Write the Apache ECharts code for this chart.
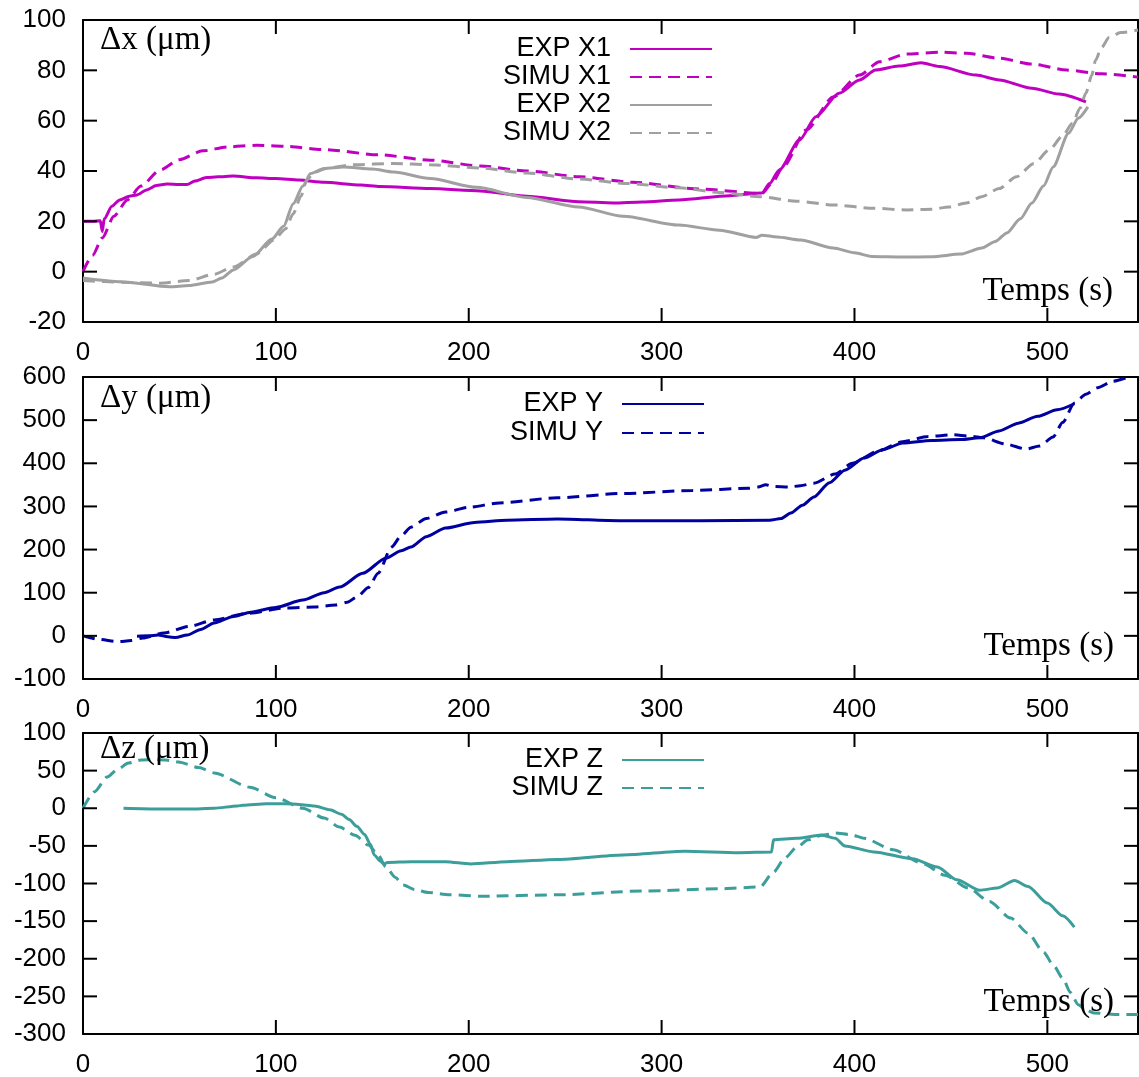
<!DOCTYPE html>
<html><head><meta charset="utf-8">
<script src="https://cdn.jsdelivr.net/npm/echarts@6/dist/echarts.min.js"></script>
<style>html,body{margin:0;padding:0;background:#fff}#c{width:1139px;height:1077px}</style>
</head><body><div id="c"></div><script>
// ---- data (t in s, value in µm) ----
const X_MAX = 547;
const X_TICKS = [0,100,200,300,400,500];
const Y_TICKS = [[-20,0,20,40,60,80,100],[-100,0,100,200,300,400,500,600],[-300,-250,-200,-150,-100,-50,0,50,100]];
const EXP_X1 = [[0,20],[5,20],[9,20.2],[10,16],[11,21],[15,26],[19,28.5],[24,30],[28,30.5],[33,32.5],[38,34.2],[43.5,34.8],[50,34.6],[54,34.6],[58,36],[64,37.4],[70,37.7],[78,38],[90,37.3],[100,37],[112,36.4],[125,35.5],[144,34.4],[154,33.8],[180,33],[206,32.1],[230,30],[257,27.8],[275,27.3],[290,27.7],[309,28.5],[335,30.2],[352,31.3],[356,35],[361,40.4],[371.5,52.3],[380,61.6],[392,70.9],[402.6,76.2],[411,80.1],[423,81.7],[434.5,83],[444,81.5],[463,78.1],[475,76.2],[492,72.9],[506,70.6],[520,67.5]];
const SIMU_X1 = [[0,0],[5,6.5],[10,13.4],[16,22],[23,28.5],[30,34],[40,40.4],[50,44.5],[62,48],[75,49.6],[90,50.2],[105,49.8],[125,48.5],[154,46.4],[180,44.3],[206,42],[230,40],[257.5,37.7],[285,35.5],[320,32.8],[352,31.1],[357,35],[363,41.6],[375,56.3],[389,69.4],[402.6,78.1],[413,83.4],[427,86.5],[444,87.2],[458,86.8],[475,84.8],[492,82.5],[510,80.1],[528,78.6],[547,77.3]];
const EXP_X2 = [[0,-2.5],[20,-4],[45,-6],[55,-5.5],[67,-4.1],[72,-2.5],[78,0.7],[88,6],[98,13],[104,18],[109,27],[114,34],[118,39],[125,41],[135,41.6],[150,40.8],[161,39.6],[180,37],[204,33.5],[230,29.5],[257,25.7],[280,22],[309,18.5],[330,16.5],[349,13.6],[352,14.5],[360,13.8],[372,12.6],[389,9.4],[400,7.5],[409,6],[425,5.8],[440,5.9],[455,7],[466,9.4],[473,12],[479,15.4],[486,21],[492,27.3],[498,34],[503,41.6],[511,55],[516,61],[521,65.5]];
const SIMU_X2 = [[0,-3.5],[20,-4.2],[40,-4.6],[55,-3.5],[68,-1],[78,1.9],[90,7],[99,12.6],[105,17],[109,23],[113,30],[116,36.4],[120,39.5],[126,41],[140,42.5],[161,43],[180,42.5],[206,41.2],[230,39.2],[257,36.8],[283,35],[309,33.3],[330,31.5],[351,29.8],[370,28],[389,26.5],[410,25.2],[427,24.5],[440,24.8],[449,25.7],[458,27.3],[466,29.8],[475,33],[484,37.7],[493,43],[501,48.4],[508,54],[513,59],[517,65],[520,71],[523,78],[525,84],[528,89],[532,93],[538,95],[547,96]];
const EXP_Y = [[28,-1],[34,0],[39,2],[44,-2],[48,-4],[54,2],[61,15],[68,30],[78,45],[87,55],[100,66],[114,83],[125,100],[133,113],[145,145],[157,180],[165,197],[170,206],[178,230],[188,250],[203,263],[220,268],[246,271],[278,267],[320,267],[356,268],[362,272],[367,285],[373,303],[379,322],[387,355],[395,384],[405,412],[415,432],[425,447],[440,453],[455,455],[465,459],[475,475],[485,493],[495,509],[505,524],[514,538]];
const SIMU_Y = [[0,0],[8,-8],[18,-13.5],[25,-11],[31,-5],[42,6.6],[55,22],[68,36.7],[85,52],[105,64.5],[120,67],[131,71.5],[137,78],[142,90],[148,112],[153,145],[160,206],[165,232],[170,252],[178,272],[188,287],[200,298],[216,308],[246,320],[280,330],[316,337],[345,342],[350,345],[354,350],[358,346],[366,345],[372,348],[379,354],[390,375],[399,400],[412,428],[425,450],[438,462],[451,466],[460,463],[467,459],[478,445],[489,433],[496,440],[503,461],[508,495],[514,540],[520,560],[526,575],[534,590],[542,600]];
const EXP_Z = [[21,0],[40,-1],[55,-1],[68,0],[80,3],[83,4],[95,6],[105,6],[112,5],[120,3],[128,-2],[134,-8],[138,-15],[142,-24],[146,-35],[149,-48],[151,-62],[154,-70],[156,-74],[158,-72],[170,-71],[188,-71],[201,-74],[220,-71],[246,-68],[280,-62],[312,-57],[340,-59],[357,-58],[358,-42],[370,-40],[383,-35.6],[390,-40],[395,-50],[410,-58],[430,-67],[443,-78],[453,-95],[465,-109],[474,-106],[483,-96],[490,-104],[500,-126],[508,-143],[514,-158]];
const SIMU_Z = [[0,0],[6,22],[12.5,41.5],[18,52],[23.6,60],[30,64],[36.5,65],[43,64],[49.5,61.5],[60,54],[68,47],[86.5,28],[100,14],[114,0],[125,-13],[133,-25],[141,-36],[148,-49],[153,-62],[157,-78],[162,-92],[166,-102],[172,-108],[179,-112],[190,-115],[207,-117],[246,-115],[290,-110],[330,-107],[351,-104.7],[358,-85],[364,-66],[370,-52],[376,-42],[383,-36],[390,-33],[398,-35],[405,-40],[420,-55],[435,-73],[447,-89],[459,-106],[470,-124],[481,-146],[490,-166],[498,-191],[503,-208],[508,-226],[512,-245],[516,-261],[520,-268],[524,-272],[535,-274],[547,-274]];
const Y_AXES = [{min:-20,max:100,interval:20},{min:-100,max:600,interval:100},{min:-300,max:100,interval:50}];

// ---- styles ----
const C_MAG='#c000c0', C_GRAY='#a0a0a0', C_BLUE='#0000a0', C_TEAL='#3c9e9a';
const SANS='Liberation Sans', SERIF='Liberation Serif';
const TICK_LEN=14;
const grids=[{left:83,right:1,top:20,height:302},{left:83,right:1,top:377,height:302},{left:83,right:1,top:733,height:301}]
  .map(g=>Object.assign(g,{containLabel:false,outerBoundsMode:'none'}));
const mkLine=()=>({show:true,onZero:false,lineStyle:{color:'#000',width:2}});
const xAxis=[], yAxis=[];
grids.forEach((g,i)=>{
  xAxis.push({type:'value',gridIndex:i,min:0,max:X_MAX,interval:100,position:'bottom',axisLine:mkLine(),axisTick:{show:false},splitLine:{show:false},
    axisLabel:{color:'#000',fontFamily:SANS,fontSize:26,margin:18,showMaxLabel:false,formatter:v=>(X_TICKS.includes(v)?String(v):'')}});
  xAxis.push({type:'value',gridIndex:i,min:0,max:X_MAX,interval:100,position:'top',axisLine:mkLine(),axisTick:{show:false},splitLine:{show:false},axisLabel:{show:false}});
  yAxis.push(Object.assign({type:'value',gridIndex:i,position:'left',axisLine:mkLine(),axisTick:{show:false},splitLine:{show:false},
    axisLabel:{color:'#000',fontFamily:SANS,fontSize:26,margin:17}},Y_AXES[i]));
  yAxis.push(Object.assign({type:'value',gridIndex:i,position:'right',axisLine:mkLine(),axisTick:{show:false},splitLine:{show:false},axisLabel:{show:false}},Y_AXES[i]));
});
function ser(name,data,panel,color,dashed){
  return {name,type:'line',data,xAxisIndex:panel*2,yAxisIndex:panel*2,symbol:'none',showSymbol:false,smooth:0.25,smoothMonotone:'x',
    lineStyle:{color,width:3,type:dashed?[12,7]:'solid'},itemStyle:{color},z:2};
}
// inward tick marks, mirrored on opposite borders; positions come from the axes' scales
function xTickSeries(panel){
  const ax=Y_AXES[panel];
  return {type:'custom',xAxisIndex:panel*2,yAxisIndex:panel*2,zlevel:1,z:20,silent:true,clip:false,
    data:X_TICKS.map(v=>[v,ax.min]),
    renderItem:(params,api)=>{
      const a=api.coord([api.value(0),ax.min]), b=api.coord([api.value(0),ax.max]);
      const st={stroke:'#000',lineWidth:2,fill:null};
      return {type:'group',children:[
        {type:'line',shape:{x1:a[0],y1:a[1],x2:a[0],y2:a[1]-TICK_LEN},style:st},
        {type:'line',shape:{x1:b[0],y1:b[1],x2:b[0],y2:b[1]+TICK_LEN},style:st}]};
    }};
}
function yTickSeries(panel){
  return {type:'custom',xAxisIndex:panel*2,yAxisIndex:panel*2,zlevel:1,z:20,silent:true,clip:false,
    data:Y_TICKS[panel].map(v=>[0,v]),
    renderItem:(params,api)=>{
      const a=api.coord([0,api.value(1)]), b=api.coord([X_MAX,api.value(1)]);
      const st={stroke:'#000',lineWidth:2,fill:null};
      return {type:'group',children:[
        {type:'line',shape:{x1:a[0],y1:a[1],x2:a[0]+TICK_LEN,y2:a[1]},style:st},
        {type:'line',shape:{x1:b[0],y1:b[1],x2:b[0]-TICK_LEN,y2:b[1]},style:st}]};
    }};
}
const series=[
  ser('EXP X1',EXP_X1,0,C_MAG,false), ser('SIMU X1',SIMU_X1,0,C_MAG,true),
  ser('EXP X2',EXP_X2,0,C_GRAY,false), ser('SIMU X2',SIMU_X2,0,C_GRAY,true),
  ser('EXP Y',EXP_Y,1,C_BLUE,false), ser('SIMU Y',SIMU_Y,1,C_BLUE,true),
  ser('EXP Z',EXP_Z,2,C_TEAL,false), ser('SIMU Z',SIMU_Z,2,C_TEAL,true),
  xTickSeries(0), yTickSeries(0), xTickSeries(1), yTickSeries(1), xTickSeries(2), yTickSeries(2)
];
function leg(name,right,cy){
  return {data:[name],right,top:cy-14,orient:'vertical',align:'right',itemWidth:82,itemHeight:14,padding:0,selectedMode:false,
    itemStyle:{opacity:0,borderWidth:0},
    textStyle:{fontFamily:SANS,fontSize:27,color:'#000',lineHeight:28,padding:[0,14,0,0]}};
}
const legend=[leg('EXP X1',426,49),leg('SIMU X1',426,77),leg('EXP X2',426,105),leg('SIMU X2',426,133),
  leg('EXP Y',434,404),leg('SIMU Y',434,433),leg('EXP Z',434,760),leg('SIMU Z',434,788)];
function txt(text,x,y,align){
  return {type:'text',x,y,z:10,style:{text,fontFamily:SERIF,fontSize:33,fill:'#000',align,verticalAlign:'middle'}};
}
const graphic=[txt('Δx (μm)',100,40,'left'),txt('Temps (s)',1113,291,'right'),
  txt('Δy (μm)',100,398,'left'),txt('Temps (s)',1114,646,'right'),
  txt('Δz (μm)',100,749,'left'),txt('Temps (s)',1114,1002,'right')];
const chart=echarts.init(document.getElementById('c'),null,{renderer:'canvas'});
chart.setOption({animation:false,backgroundColor:'#fff',grid:grids,xAxis,yAxis,series,legend,graphic});
</script></body></html>
